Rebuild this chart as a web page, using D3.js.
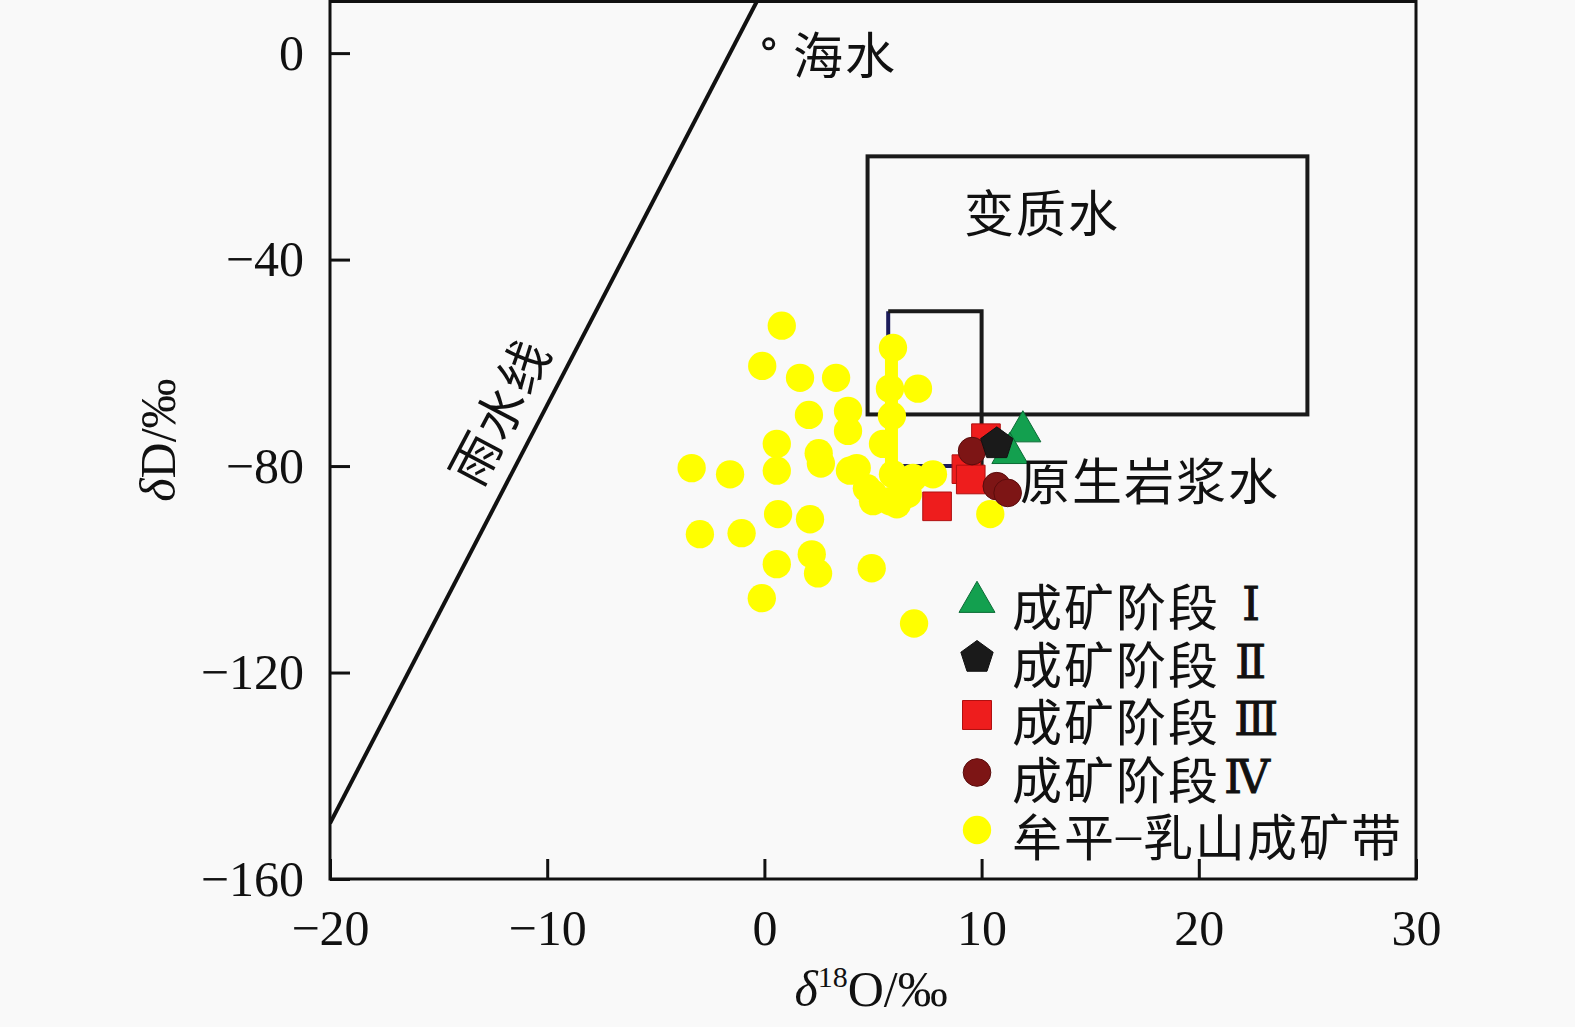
<html>
<head>
<meta charset="utf-8">
<script src="https://d3js.org/d3.v7.min.js"></script>
<style>
body { margin: 0; background: #f9f9f9; }
svg { display: block; }
.num { font-family: 'Liberation Serif', 'Times New Roman', serif; font-size: 50px; fill: #111; }
.cjk { font-family: 'Noto Sans CJK SC', sans-serif; font-size: 50px; fill: #111; letter-spacing: 2px; }
</style>
</head>
<body>
<div id="chart"></div>
<script>

// axis ticks
var o18Ticks = [-20, -10, 0, 10, 20, 30];
var dDTicks = [0, -40, -80, -120, -160];

// 牟平-乳山成矿带 (delta18O, deltaD)
var muping = [
  [0.8, -52.8], [-0.1, -60.6], [1.64, -62.9], [3.3, -62.9], [2.05, -70.1],
  [3.85, -69.3], [3.85, -73.2], [0.57, -75.7], [0.57, -80.9], [2.5, -77.5],
  [2.6, -79.5], [-3.35, -80.4], [-1.58, -81.6], [4.25, -80.4], [5.0, -85.4],
  [5.78, -86.8], [0.63, -89.3], [2.1, -90.3], [-2.97, -93.2], [-1.05, -93.0],
  [0.57, -99.0], [2.18, -97.1], [2.47, -100.8], [4.94, -99.8], [-0.12, -105.6],
  [6.89, -110.5], [5.92, -57.1], [7.07, -65.0], [5.78, -65.0], [5.87, -70.3],
  [5.46, -75.7], [3.94, -80.9], [4.72, -84.3], [5.92, -81.6], [6.84, -82.3],
  [7.76, -81.6], [5.0, -86.8], [6.1, -87.4], [6.6, -85.4], [10.4, -89.3]
];
// yellow vertical strip seen through the cluster
var mupingStrip = [[5.85, -55], [5.85, -81]];
var stage1 = [[11.9, -73.3], [11.3, -77.5]];
var stage2 = [[10.7, -75.7]];
var stage3 = [[7.95, -87.8], [9.3, -80.6], [9.5, -82.6], [10.2, -74.6]];
var stage4 = [[9.56, -77.1], [10.7, -83.9], [11.2, -85.2]];

// reference fields [x0, x1, y0, y1]
var metamorphicBox = [4.75, 25.0, -70, -20];
var magmaticBox = [5.7, 10, -80, -50];
var seawater = [0.2, 1.8];
// meteoric water line, ends as drawn in the figure
var gmwlEnds = [[-20, -149.2], [-0.35, 10]];

var legendLabels = ["成矿阶段", "成矿阶段", "成矿阶段", "成矿阶段", "牟平–乳山成矿带"];
var legendNumerals = ["Ⅰ", "Ⅱ", "Ⅲ", "Ⅳ", ""];

var W = 1575, H = 1027;
var svg = d3.select("#chart").append("svg").attr("width", W).attr("height", H);

var x = d3.scaleLinear().domain([-20, 30]).range([330, 1416]);
var y = d3.scaleLinear().domain([-160, 10]).range([879, 1.5]);

svg.append("defs").append("clipPath").attr("id", "plotclip")
  .append("rect")
  .attr("x", x(-20)).attr("y", y(10))
  .attr("width", x(30) - x(-20)).attr("height", y(-160) - y(10));

// boxes
svg.append("rect")
  .attr("x", x(metamorphicBox[0])).attr("y", y(metamorphicBox[3]))
  .attr("width", x(metamorphicBox[1]) - x(metamorphicBox[0]))
  .attr("height", y(metamorphicBox[2]) - y(metamorphicBox[3]))
  .style("fill", "none").style("stroke", "#1a1a1a").style("stroke-width", 4);

// magmatic box: left / bottom edges dark blue, top / right black
var mx0 = x(magmaticBox[0]), mx1 = x(magmaticBox[1]);
var my0 = y(magmaticBox[2]), my1 = y(magmaticBox[3]);
svg.append("path")
  .attr("d", "M" + mx1 + "," + my0 + "L" + mx0 + "," + my0 + "L" + mx0 + "," + my1)
  .style("fill", "none").style("stroke", "#1c1c5a").style("stroke-width", 4);
svg.append("path")
  .attr("d", "M" + mx0 + "," + my1 + "L" + mx1 + "," + my1 + "L" + mx1 + "," + my0)
  .style("fill", "none").style("stroke", "#1a1a1a").style("stroke-width", 4);

// meteoric water line
svg.append("line")
  .attr("clip-path", "url(#plotclip)")
  .attr("x1", x(gmwlEnds[0][0])).attr("y1", y(gmwlEnds[0][1]))
  .attr("x2", x(gmwlEnds[1][0])).attr("y2", y(gmwlEnds[1][1]))
  .style("stroke", "#111").style("stroke-width", 4);

// seawater
svg.append("circle")
  .attr("cx", x(seawater[0])).attr("cy", y(seawater[1])).attr("r", 5)
  .style("fill", "#f9f9f9").style("stroke", "#111").style("stroke-width", 3);

// pentagon path
function pentagon(r) {
  var pts = d3.range(5).map(function(i) {
    var a = -Math.PI / 2 + i * 2 * Math.PI / 5;
    return [r * Math.cos(a), r * Math.sin(a)];
  });
  return "M" + pts.join("L") + "Z";
}

var styles = {
  yellow: { fill: "#ffff00", stroke: "none" },
  s1: { fill: "#13a04f", stroke: "#0b6b35" },
  s2: { fill: "#1a1a1a", stroke: "#111" },
  s3: { fill: "#ee1d1d", stroke: "#b01010" },
  s4: { fill: "#7d1515", stroke: "#5a0c0c" }
};
var shapes = {
  yellow: d3.symbol().type(d3.symbolCircle).size(630)(),
  s1: d3.symbol().type(d3.symbolTriangle).size(560)(),
  s2: pentagon(17),
  s3: d3.symbol().type(d3.symbolSquare).size(820)(),
  s4: d3.symbol().type(d3.symbolCircle).size(600)()
};

function drawPoints(data, key) {
  svg.append("g").selectAll("path")
    .data(data)
    .enter().append("path")
    .attr("d", shapes[key])
    .attr("transform", function(d) { return "translate(" + x(d[0]) + "," + y(d[1]) + ")"; })
    .style("fill", styles[key].fill)
    .style("stroke", styles[key].stroke)
    .style("stroke-width", 1);
}

svg.append("line")
  .attr("x1", x(mupingStrip[0][0])).attr("y1", y(mupingStrip[0][1]))
  .attr("x2", x(mupingStrip[1][0])).attr("y2", y(mupingStrip[1][1]))
  .style("stroke", "#ffff00").style("stroke-width", 13);
drawPoints(muping, "yellow");
drawPoints(stage1, "s1");
drawPoints(stage3, "s3");
drawPoints(stage4, "s4");
drawPoints(stage2, "s2");

// frame
svg.append("rect")
  .attr("x", x(-20)).attr("y", y(10))
  .attr("width", x(30) - x(-20)).attr("height", y(-160) - y(10))
  .style("fill", "none").style("stroke", "#111").style("stroke-width", 3);

// axes
var fmt = function(d) { return d < 0 ? "\u2212" + Math.abs(d) : d; };
var xAxis = svg.append("g").attr("transform", "translate(0," + y(-160) + ")")
  .call(d3.axisBottom(x).tickValues(o18Ticks).tickSize(-20).tickPadding(30).tickFormat(fmt));
var yAxis = svg.append("g").attr("transform", "translate(" + x(-20) + ",0)")
  .call(d3.axisLeft(y).tickValues(dDTicks).tickSize(-20).tickPadding(26).tickFormat(fmt));
[xAxis, yAxis].forEach(function(a) {
  a.select(".domain").remove();
  a.selectAll(".tick line").style("stroke", "#111").style("stroke-width", 3);
  a.selectAll(".tick text").attr("class", "num").style("font-size", "50px")
    .style("font-family", "'Liberation Serif', serif").style("fill", "#111");
});

// axis titles
var xt = svg.append("text").attr("class", "num")
  .attr("x", 871).attr("y", 1006).attr("text-anchor", "middle");
xt.append("tspan").style("font-style", "italic").text("δ");
xt.append("tspan").style("font-size", "30px").attr("dy", -19).text("18");
xt.append("tspan").attr("dy", 19).text("O/‰");

var yt = svg.append("text").attr("class", "num")
  .attr("transform", "translate(175,440) rotate(-90)").attr("text-anchor", "middle");
yt.append("tspan").style("font-style", "italic").text("δ");
yt.append("tspan").text("D/‰");

// field labels
function label(txt, px, py, rot) {
  svg.append("text").attr("class", "cjk")
    .attr("text-anchor", "middle").attr("dominant-baseline", "central")
    .attr("transform", "translate(" + px + "," + py + ")" + (rot ? " rotate(" + rot + ")" : ""))
    .text(txt);
}
label("海水", 845, 52);
label("变质水", 1042, 210);
label("原生岩浆水", 1150, 478);
label("雨水线", 497, 410, -62.2);

// legend
var legendX = 977, legendTop = 600, legendStep = 57.5;
var legendKeys = ["s1", "s2", "s3", "s4", "yellow"];
var numeralDx = [22, 15, 14, 4];
legendKeys.forEach(function(k, i) {
  var ly = legendTop + i * legendStep;
  svg.append("path")
    .attr("d", k === "s3" ? d3.symbol().type(d3.symbolSquare).size(840)() : shapes[k])
    .attr("transform", "translate(" + legendX + "," + (ly + (k === "s1" ? 2 : 0)) + ")")
    .style("fill", styles[k].fill).style("stroke", styles[k].stroke).style("stroke-width", 1);
  var t = svg.append("text").attr("class", "cjk")
    .attr("x", 1012).attr("y", ly + 4).attr("dominant-baseline", "central");
  if (k === "yellow") {
    var parts = legendLabels[i].split("–");
    t.append("tspan").text(parts[0]);
    t.append("tspan").style("font-family", "'Liberation Serif', serif").text("–");
    t.append("tspan").text(parts[1]);
  } else {
    t.append("tspan").text(legendLabels[i]);
    t.append("tspan").attr("dx", numeralDx[i])
      .style("font-family", "'DejaVu Serif', 'Liberation Serif', serif")
      .style("font-size", "46px")
      .style("stroke", "#111").style("stroke-width", 0.8)
      .style("letter-spacing", "0px")
      .text(legendNumerals[i]);
  }
});

</script>
</body>
</html>
